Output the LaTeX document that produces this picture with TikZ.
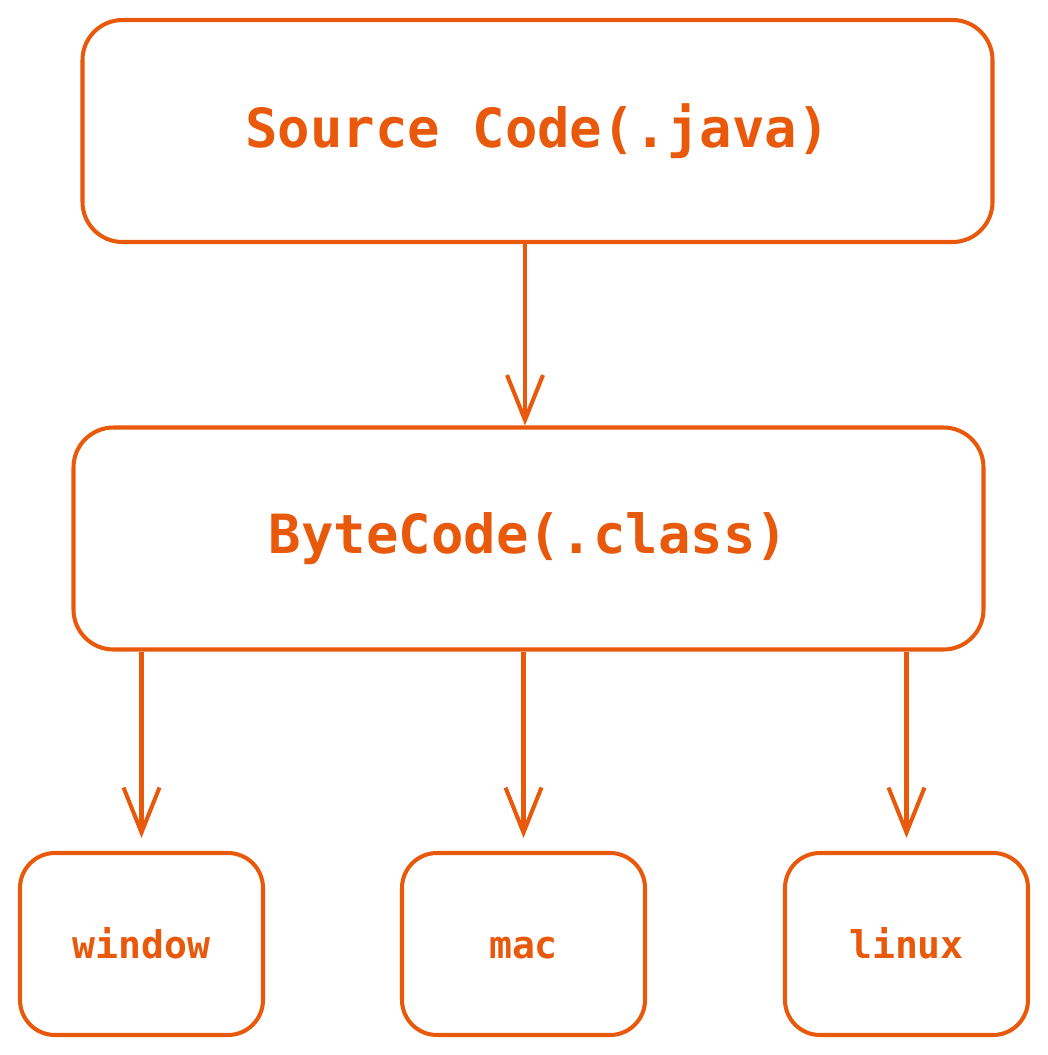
\documentclass[tikz,border=0pt]{standalone}
\usepackage{fontspec}
\setmonofont{DejaVu Sans Mono}
\usetikzlibrary{arrows.meta}
\definecolor{orng}{HTML}{E8590C}

\begin{document}
\begin{tikzpicture}[big/.style={draw=orng, rounded corners=0.8cm, line width=2.3pt, minimum width=18.2cm, minimum height=4.44cm, text=orng, font=\ttfamily\bfseries\fontsize{30.7}{36}\selectfont}, small/.style={draw=orng, rounded corners=0.7cm, line width=2.3pt, minimum width=4.86cm, minimum height=3.64cm, text height=1.8em, text depth=0.2em, text=orng, font=\ttfamily\bfseries\fontsize{21.7}{26}\selectfont}, n/.style={-{Straight Barb[length=0.9cm, width=0.72cm, line width=2.3pt]}, draw=orng, line width=2.3pt}]
                \useasboundingbox (0,0) rectangle (20.96,-21.1);
                % nodes
                \node[big] (src) at (10.75,-2.62) {Source Code(.java)};
                \node[big] (byte) at (10.57,-10.77) {ByteCode(.class)};
                \node[small] (win) at (2.83,-18.88) {window};
                \node[small] (mac) at (10.47,-18.88) {mac};
                \node[small] (lin) at (18.13,-18.88) {linux};
                % edges
                \draw [n] ([xshift=-0.25cm]src.south) -- ([xshift=-0.25cm]src.south |- byte.north);
                \draw [n] (byte.south -| win.north) -- ([yshift=0.26cm]win.north);
                \draw [n] (byte.south -| mac.north) -- ([yshift=0.26cm]mac.north);
                \draw [n] (byte.south -| lin.north) -- ([yshift=0.26cm]lin.north);
            \end{tikzpicture}
\end{document}
